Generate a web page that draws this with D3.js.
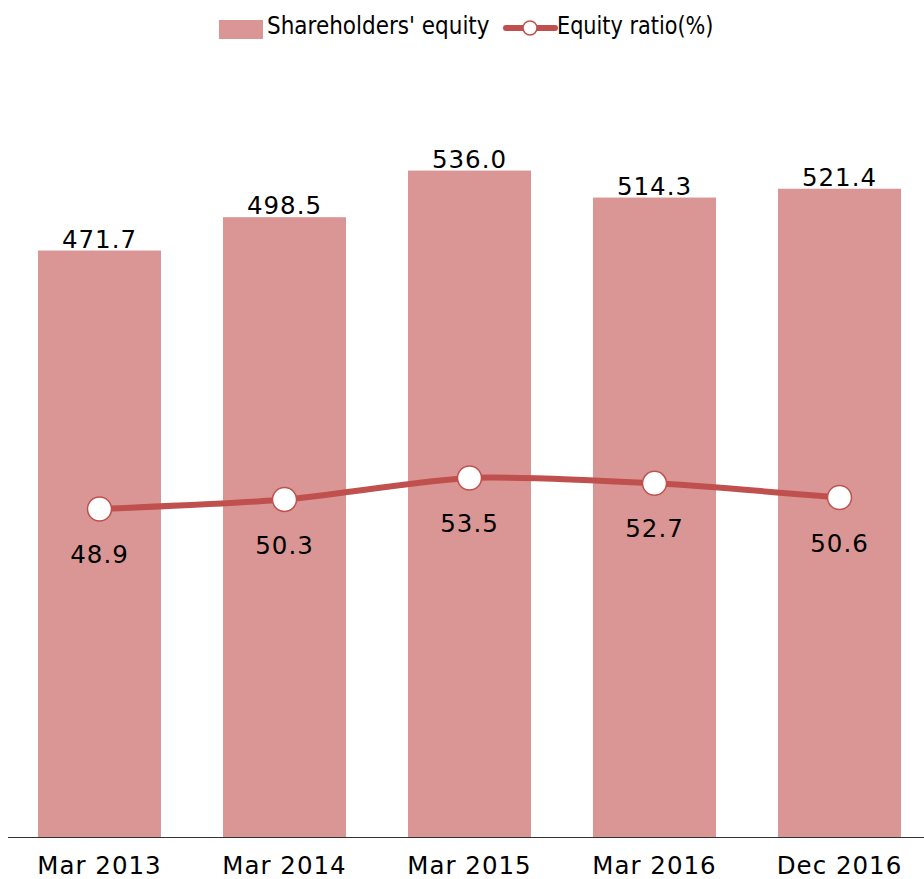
<!DOCTYPE html>
<html><head><meta charset="utf-8">
<script src="https://cdn.jsdelivr.net/npm/d3@7"></script>
<style>body{margin:0;background:#fff}svg{display:block}text{font-family:"DejaVu Sans",sans-serif;fill:#000}</style>
</head><body>
<svg id="c" width="924" height="879"></svg>
<script>
const categories = ["Mar 2013","Mar 2014","Mar 2015","Mar 2016","Dec 2016"];
const equity = [471.7, 498.5, 536.0, 514.3, 521.4];
const ratio = [48.9, 50.3, 53.5, 52.7, 50.6];
const equityLabels = ["471.7","498.5","536.0","514.3","521.4"];
const ratioLabels = ["48.9","50.3","53.5","52.7","50.6"];
const legendNames = ["Shareholders' equity","Equity ratio(%)"];

const barColor = "#da9694", lineColor = "#c0504d";
const svg = d3.select("#c");
const x = d3.scaleBand().domain(categories).range([7, 932]).paddingInner(0.335).paddingOuter(0.1675);
const yBar = d3.scaleLinear().domain([0, 600]).range([837, 91]);
const yLine = d3.scaleLinear().domain([0, 110.7]).range([838.5, 92.5]);

svg.selectAll("rect.bar").data(equity).join("rect").attr("class","bar")
  .attr("x",(d,i)=>x(categories[i])).attr("width",x.bandwidth())
  .attr("y",d=>yBar(d)).attr("height",d=>yBar(0)-yBar(d)).attr("fill",barColor);

svg.selectAll("text.bl").data(equity).join("text").attr("class","bl")
  .attr("x",(d,i)=>x(categories[i])+x.bandwidth()/2).attr("y",d=>yBar(d)-3)
  .attr("text-anchor","middle").attr("font-size",24.5).attr("letter-spacing",1)
  .text((d,i)=>equityLabels[i]);

// axis
const axis = svg.append("g").attr("transform","translate(0,837.5)")
  .call(d3.axisBottom(x).tickSize(0).tickPadding(19));
axis.select(".domain").attr("stroke","#333").attr("d","M8,0H924");
axis.selectAll("text").attr("font-size",24.5).attr("letter-spacing",1).attr("font-family","DejaVu Sans").attr("fill","#000");

const cx = (i)=>x(categories[i])+x.bandwidth()/2;
const line = d3.line().x((d,i)=>cx(i)).y(d=>yLine(d)).curve(d3.curveCardinal.tension(0.3));
svg.append("path").datum(ratio).attr("d",line).attr("fill","none")
  .attr("stroke",lineColor).attr("stroke-width",6);
svg.selectAll("circle.pt").data(ratio).join("circle").attr("class","pt")
  .attr("cx",(d,i)=>cx(i)).attr("cy",d=>yLine(d)).attr("r",12)
  .attr("fill","#fff").attr("stroke",lineColor).attr("stroke-width",1.5);
svg.selectAll("text.ll").data(ratio).join("text").attr("class","ll")
  .attr("x",(d,i)=>cx(i)).attr("y",d=>yLine(d)+54)
  .attr("text-anchor","middle").attr("font-size",24.5).attr("letter-spacing",1)
  .text((d,i)=>ratioLabels[i]);

// legend
const lg = svg.append("g");
lg.append("rect").attr("x",219).attr("y",20).attr("width",44).attr("height",19).attr("fill",barColor);
lg.append("g").attr("transform","translate(267,34) scale(0.88,1)")
  .append("text").attr("font-size",24.5).text(legendNames[0]);
lg.append("line").attr("x1",506).attr("x2",555).attr("y1",28).attr("y2",28)
  .attr("stroke",lineColor).attr("stroke-width",6).attr("stroke-linecap","round");
lg.append("circle").attr("cx",530).attr("cy",28).attr("r",7).attr("fill","#fff")
  .attr("stroke",lineColor).attr("stroke-width",1.5);
lg.append("g").attr("transform","translate(557,34) scale(0.85,1)")
  .append("text").attr("font-size",24.5).text(legendNames[1]);
</script>
</body></html>
